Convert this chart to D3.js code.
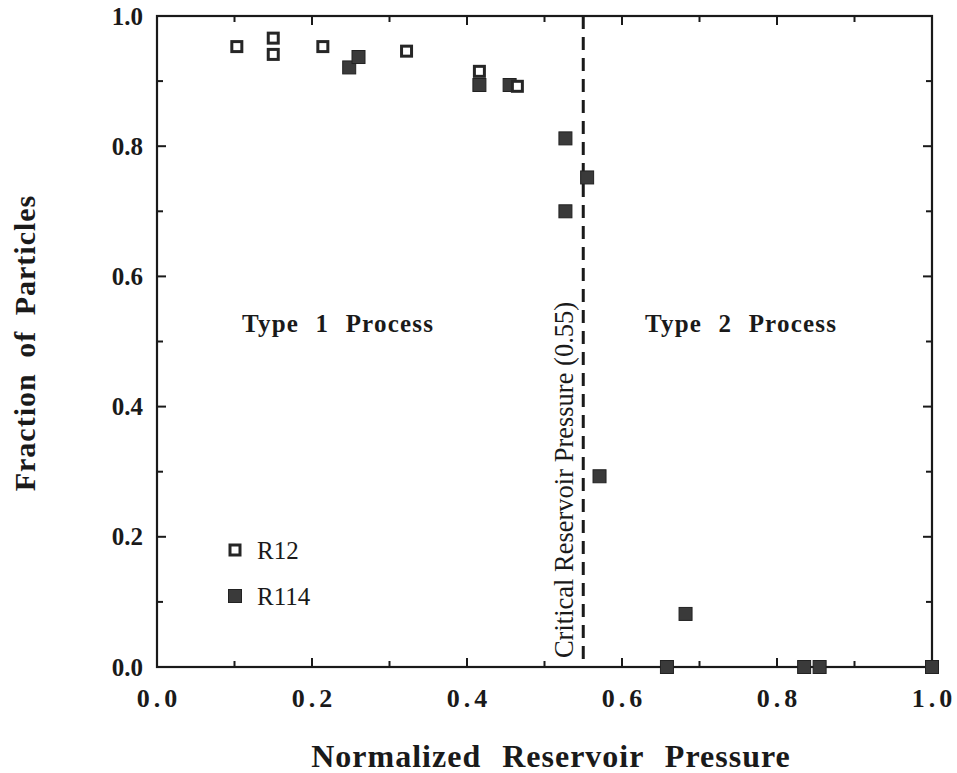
<!DOCTYPE html>
<html><head><meta charset="utf-8">
<script src="https://cdn.jsdelivr.net/npm/d3@7"></script>
<style>body{margin:0;background:#fff}</style>
</head><body>
<script>
const r12X = [0.103, 0.150, 0.150, 0.214, 0.322, 0.416, 0.465];
const r12Y = [0.953, 0.966, 0.941, 0.953, 0.946, 0.915, 0.892];
const r114X = [0.248, 0.260, 0.416, 0.455, 0.527, 0.555, 0.527, 0.571, 0.682, 0.658, 0.835, 0.855, 1.0];
const r114Y = [0.921, 0.937, 0.894, 0.894, 0.812, 0.752, 0.700, 0.293, 0.0815, 0, 0, 0, 0];
const xTicks = [0.0, 0.2, 0.4, 0.6, 0.8, 1.0];
const yTicks = [0.0, 0.2, 0.4, 0.6, 0.8, 1.0];
const minorTicks = [0.1, 0.3, 0.5, 0.7, 0.9];
const critical = 0.55;

const W = 957, H = 773;
const svg = d3.select("body").append("svg").attr("width", W).attr("height", H);
const x = d3.scaleLinear().domain([0, 1]).range([157, 932]);
const y = d3.scaleLinear().domain([0, 1]).range([667, 16]);
const serif = "'Liberation Serif', 'Times New Roman', serif";
const ink = "#1a1a1a";

// frame
svg.append("rect").attr("x", x(0)).attr("y", y(1)).attr("width", x(1) - x(0)).attr("height", y(0) - y(1))
  .attr("fill", "none").attr("stroke", ink).attr("stroke-width", 2.2);

// ticks (inward) all sides
const g = svg.append("g").attr("stroke", ink).attr("stroke-width", 2);
xTicks.forEach(v => {
  g.append("line").attr("x1", x(v)).attr("x2", x(v)).attr("y1", y(0)).attr("y2", y(0) - 9);
  g.append("line").attr("x1", x(v)).attr("x2", x(v)).attr("y1", y(1)).attr("y2", y(1) + 9);
});
minorTicks.forEach(v => {
  g.append("line").attr("x1", x(v)).attr("x2", x(v)).attr("y1", y(0)).attr("y2", y(0) - 6);
  g.append("line").attr("x1", x(v)).attr("x2", x(v)).attr("y1", y(1)).attr("y2", y(1) + 6);
  g.append("line").attr("y1", y(v)).attr("y2", y(v)).attr("x1", x(0)).attr("x2", x(0) + 6);
  g.append("line").attr("y1", y(v)).attr("y2", y(v)).attr("x1", x(1)).attr("x2", x(1) - 6);
});
yTicks.forEach(v => {
  g.append("line").attr("y1", y(v)).attr("y2", y(v)).attr("x1", x(0)).attr("x2", x(0) + 9);
  g.append("line").attr("y1", y(v)).attr("y2", y(v)).attr("x1", x(1)).attr("x2", x(1) - 9);
});

// tick labels
svg.append("g").selectAll("text").data(xTicks).join("text")
  .attr("x", d => x(d) + 2).attr("y", 707).attr("text-anchor", "middle")
  .attr("font-family", serif).attr("font-weight", "bold").attr("font-size", 26)
  .attr("letter-spacing", 4).attr("fill", ink).text(d => d.toFixed(1));
svg.append("g").selectAll("text").data(yTicks).join("text")
  .attr("x", 143).attr("y", d => y(d) + 8.5).attr("text-anchor", "end")
  .attr("font-family", serif).attr("font-weight", "bold").attr("font-size", 25)
  .attr("fill", ink).text(d => d.toFixed(1));

// axis titles
svg.append("text").attr("x", 551).attr("y", 767).attr("text-anchor", "middle")
  .attr("font-family", serif).attr("font-weight", "bold").attr("font-size", 32)
  .attr("letter-spacing", 1).attr("word-spacing", 12).attr("fill", ink).text("Normalized Reservoir Pressure");
svg.append("text").attr("transform", "translate(35,343) rotate(-90)").attr("text-anchor", "middle")
  .attr("font-family", serif).attr("font-weight", "bold").attr("font-size", 30)
  .attr("letter-spacing", 1).attr("word-spacing", 7).attr("fill", ink).text("Fraction of Particles");

// critical line
svg.append("line").attr("x1", x(critical)).attr("x2", x(critical)).attr("y1", y(1)).attr("y2", y(0))
  .attr("stroke", ink).attr("stroke-width", 3).attr("stroke-dasharray", "13,8");
svg.append("text").attr("transform", `translate(${x(critical) - 10},${480}) rotate(-90)`)
  .attr("text-anchor", "middle").attr("font-family", serif).attr("font-size", 26.5)
  .attr("fill", ink).text("Critical Reservoir Pressure (0.55)");

// region labels
[["Type 1 Process", 338], ["Type 2 Process", 741]].forEach(([t, cx]) => {
  svg.append("text").attr("x", cx).attr("y", 332).attr("text-anchor", "middle")
    .attr("font-family", serif).attr("font-weight", "bold").attr("font-size", 25)
    .attr("word-spacing", 9).attr("letter-spacing", 1.2).attr("fill", ink)
    .text(t);
});

const S = 13;
function filled(sel) {
  sel.attr("width", S).attr("height", S).attr("fill", "#3a3a3a").attr("stroke", "#222").attr("stroke-width", 1);
}
function open(sel) {
  sel.attr("width", S - 3).attr("height", S - 3).attr("fill", "#fff").attr("stroke", "#262626").attr("stroke-width", 3);
}
const r114 = r114X.map((v, i) => ({x: v, y: r114Y[i]}));
const r12 = r12X.map((v, i) => ({x: v, y: r12Y[i]}));
svg.append("g").selectAll("rect").data(r114).join("rect")
  .attr("x", d => x(d.x) - S / 2).attr("y", d => y(d.y) - S / 2).call(filled);
svg.append("g").selectAll("rect").data(r12).join("rect")
  .attr("x", d => x(d.x) - (S - 3) / 2).attr("y", d => y(d.y) - (S - 3) / 2).call(open);

// legend
svg.append("rect").attr("x", 235 - (S - 3) / 2).attr("y", 550 - (S - 3) / 2).call(open);
svg.append("rect").attr("x", 235 - S / 2).attr("y", 596 - S / 2).call(filled);
svg.append("text").attr("x", 257).attr("y", 559).attr("font-family", serif).attr("font-size", 25).attr("fill", ink).text("R12");
svg.append("text").attr("x", 257).attr("y", 605).attr("font-family", serif).attr("font-size", 25).attr("fill", ink).text("R114");
</script>
</body></html>
